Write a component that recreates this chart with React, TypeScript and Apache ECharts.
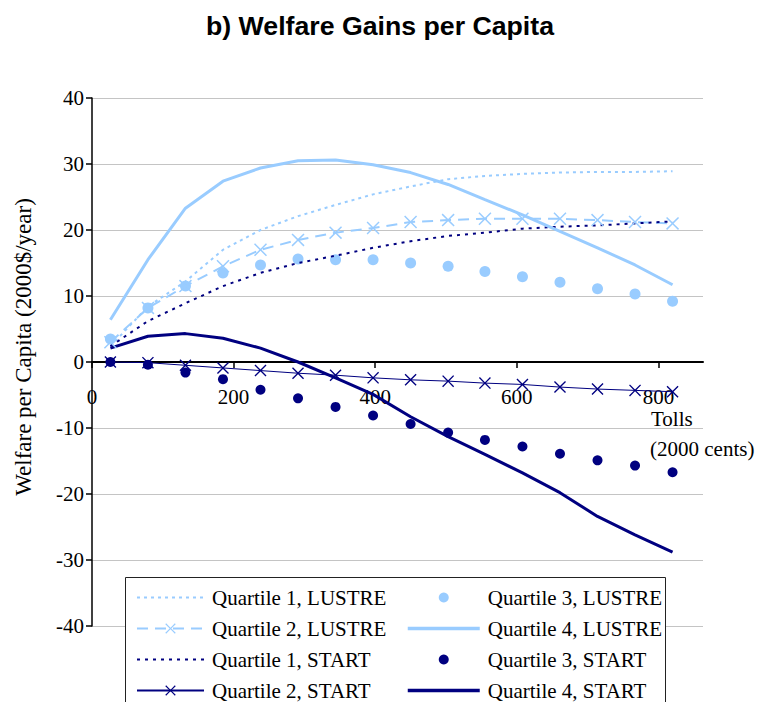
import React, { useEffect, useRef } from "react";
import * as echarts from "echarts";

const tolls = [26, 79, 132, 185, 238, 291, 344, 397, 450, 503, 555, 608, 661, 714, 767, 820];

const q1Lustre = [2.4, 8.4, 12.2, 17.0, 20.0, 22.1, 23.8, 25.4, 26.6, 27.7, 28.2, 28.5, 28.7, 28.8, 28.8, 28.9];
const q2Lustre = [3.0, 8.2, 11.5, 14.5, 17.0, 18.5, 19.6, 20.3, 21.2, 21.5, 21.7, 21.7, 21.7, 21.5, 21.2, 21.0];
const q3Lustre = [3.5, 8.2, 11.5, 13.5, 14.7, 15.6, 15.5, 15.5, 15.0, 14.5, 13.7, 12.9, 12.1, 11.1, 10.3, 9.2];
const q4Lustre = [6.4, 15.5, 23.3, 27.4, 29.4, 30.5, 30.6, 29.9, 28.7, 26.9, 24.6, 22.3, 19.8, 17.3, 14.7, 11.7];

const q1Start = [2.4, 6.2, 8.9, 11.5, 13.5, 15.0, 16.1, 17.3, 18.3, 19.1, 19.6, 20.2, 20.5, 20.7, 21.0, 21.3];
const q2Start = [0, -0.1, -0.5, -0.9, -1.3, -1.7, -2.0, -2.4, -2.7, -2.9, -3.2, -3.4, -3.8, -4.1, -4.3, -4.5];
const q3Start = [0, -0.4, -1.6, -2.6, -4.2, -5.5, -6.8, -8.1, -9.4, -10.7, -11.8, -12.8, -13.9, -14.9, -15.7, -16.7];
const q4Start = [2.1, 3.9, 4.3, 3.6, 2.1, 0, -2.4, -4.9, -8.3, -11.3, -14.0, -16.8, -19.8, -23.4, -26.2, -28.8];

const legendLeft = ["Quartile 1, LUSTRE", "Quartile 2, LUSTRE", "Quartile 1, START", "Quartile 2, START"];
const legendRight = ["Quartile 3, LUSTRE", "Quartile 4, LUSTRE", "Quartile 3, START", "Quartile 4, START"];
const noSymbolSeries = ["Quartile 1, LUSTRE", "Quartile 1, START", "Quartile 4, LUSTRE", "Quartile 4, START"];
const thickSeries = ["Quartile 4, LUSTRE", "Quartile 4, START"];

const LIGHT = "#99CCFF";
const NAVY = "#000080";
const SERIF = "'Liberation Serif', 'Times New Roman', serif";
const XSYM = "path://M0,0.8L0.8,0L5,4.2L9.2,0L10,0.8L5.8,5L10,9.2L9.2,10L5,5.8L0.8,10L0,9.2L4.2,5Z";

const pairs = (ys: number[]) => tolls.map((t, i) => [t, ys[i]]);
const legendItems = (names: string[]) =>
  names.map((n) => {
    const item: any = { name: n };
    if (noSymbolSeries.includes(n)) item.itemStyle = { opacity: 0 };
    if (thickSeries.includes(n)) item.lineStyle = { width: 3.5 };
    return item;
  });

export default function App() {
  const ref = useRef<HTMLDivElement>(null);
  useEffect(() => {
    if (!ref.current) return;
    const chart = echarts.init(ref.current, undefined, { renderer: "svg" });
    const legendText = { fontFamily: SERIF, fontSize: 21, color: "#000", lineHeight: 20, padding: [0, 0, 0, 3] };
    chart.setOption({
      animation: false,
      title: {
        text: "b) Welfare Gains per Capita",
        left: "center",
        top: 7,
        textStyle: { fontFamily: "'Liberation Sans', Arial, sans-serif", fontWeight: "bold", fontSize: 26.7, color: "#000" },
      },
      grid: { left: 92, right: 57, top: 98, bottom: 76, containLabel: false },
      xAxis: {
        type: "value",
        min: 0,
        max: 863,
        interval: 200,
        offset: -264,
        axisLine: { show: true, onZero: false, lineStyle: { color: "#000", width: 2 } },
        axisTick: { show: true, length: 6, lineStyle: { color: "#000", width: 1.5 } },
        axisLabel: { showMaxLabel: false, margin: 24, fontFamily: SERIF, fontSize: 21, color: "#000" },
        splitLine: { show: false },
      },
      yAxis: {
        type: "value",
        min: -40,
        max: 40,
        interval: 10,
        axisLine: { show: true, lineStyle: { color: "#000", width: 1.5 } },
        axisTick: { show: true, length: 6, lineStyle: { color: "#000", width: 1.5 } },
        axisLabel: { margin: 8, fontFamily: SERIF, fontSize: 21, color: "#000" },
        splitLine: { show: true, lineStyle: { color: "#C4C4C4", width: 1 } },
      },
      legend: [
        {
          orient: "vertical",
          left: 136,
          top: 587,
          padding: 0,
          itemWidth: 67,
          itemHeight: 13,
          itemGap: 10,
          selectedMode: false,
          data: legendItems(legendLeft),
          textStyle: legendText,
        },
        {
          orient: "vertical",
          left: 406,
          top: 587,
          padding: 0,
          itemWidth: 72,
          itemHeight: 10,
          itemGap: 10,
          selectedMode: false,
          data: legendItems(legendRight),
          textStyle: legendText,
        },
      ],
      graphic: [
        {
          type: "rect",
          z: 3,
          shape: { x: 125.5, y: 577.5, width: 540, height: 140 },
          style: { fill: "#fff", stroke: "#222", lineWidth: 1 },
        },
        {
          type: "text",
          x: 23,
          y: 347,
          rotation: Math.PI / 2,
          style: { text: "Welfare per Capita (2000$/year)", font: `23px ${SERIF}`, fill: "#000", textAlign: "center", textVerticalAlign: "middle" },
        },
        {
          type: "text",
          x: 651,
          y: 419,
          style: { text: "Tolls", font: `21px ${SERIF}`, fill: "#000", textAlign: "left", textVerticalAlign: "middle" },
        },
        {
          type: "text",
          x: 650,
          y: 449,
          style: { text: "(2000 cents)", font: `21px ${SERIF}`, fill: "#000", textAlign: "left", textVerticalAlign: "middle" },
        },
      ],
      series: [
        {
          name: "Quartile 1, LUSTRE",
          type: "line",
          data: pairs(q1Lustre),
          symbol: "none",
          lineStyle: { color: LIGHT, width: 2, type: [3, 4] },
          itemStyle: { color: LIGHT },
        },
        {
          name: "Quartile 2, LUSTRE",
          type: "line",
          data: pairs(q2Lustre),
          symbol: XSYM,
          symbolSize: 13,
          lineStyle: { color: LIGHT, width: 2, type: [11, 7] },
          itemStyle: { color: LIGHT },
        },
        {
          name: "Quartile 1, START",
          type: "line",
          data: pairs(q1Start),
          symbol: "none",
          lineStyle: { color: NAVY, width: 2, type: [3, 5] },
          itemStyle: { color: NAVY },
        },
        {
          name: "Quartile 2, START",
          type: "line",
          data: pairs(q2Start),
          symbol: XSYM,
          symbolSize: 12,
          lineStyle: { color: NAVY, width: 1 },
          itemStyle: { color: NAVY },
        },
        {
          name: "Quartile 3, LUSTRE",
          type: "scatter",
          data: pairs(q3Lustre),
          symbol: "circle",
          symbolSize: 11,
          itemStyle: { color: LIGHT, opacity: 1 },
        },
        {
          name: "Quartile 4, LUSTRE",
          type: "line",
          data: pairs(q4Lustre),
          symbol: "none",
          lineStyle: { color: LIGHT, width: 3 },
          itemStyle: { color: LIGHT },
        },
        {
          name: "Quartile 3, START",
          type: "scatter",
          data: pairs(q3Start),
          symbol: "circle",
          symbolSize: 10,
          itemStyle: { color: NAVY, opacity: 1 },
        },
        {
          name: "Quartile 4, START",
          type: "line",
          data: pairs(q4Start),
          symbol: "none",
          lineStyle: { color: NAVY, width: 3 },
          itemStyle: { color: NAVY },
        },
      ],
    });
    return () => chart.dispose();
  }, []);
  return <div ref={ref} style={{ position: "fixed", left: 0, top: 0, width: 760, height: 702, background: "#fff" }} />;
}
